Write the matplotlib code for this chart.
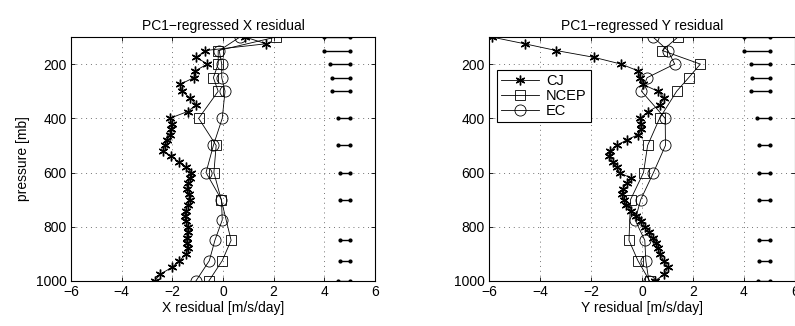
"""Vertical profiles of PC1-regressed X and Y residuals (CJ, NCEP, EC)."""

import matplotlib
matplotlib.use("Agg")
import matplotlib.pyplot as plt

plt.rcParams["font.family"] = ["Liberation Sans", "DejaVu Sans"]
plt.rcParams["font.size"] = 10

# CJ levels [mb]
cj_p = [100, 125, 150, 175, 200, 225, 250, 275, 300, 325, 350, 375, 400,
        420, 440, 460, 480, 500, 520, 540, 560, 580, 600, 620, 640, 660,
        680, 700, 720, 740, 760, 780, 800, 820, 840, 860, 880, 900,
        925, 950, 975, 1000]
cj_x = [0.87, 1.70, -0.70, -1.05, -0.62, -1.10, -1.15, -1.70, -1.62, -1.30,
        -1.05, -1.40, -2.10, -2.00, -2.05, -2.10, -2.20, -2.30, -2.38, -2.05,
        -1.75, -1.45, -1.25, -1.30, -1.40, -1.42, -1.35, -1.32, -1.40, -1.48,
        -1.50, -1.45, -1.40, -1.38, -1.44, -1.42, -1.38, -1.45, -1.72, -2.02,
        -2.48, -2.70]
cj_y = [-5.90, -4.60, -3.36, -1.88, -0.82, -0.15, -0.08, 0.04, 0.62, 0.88,
        0.70, 0.25, -0.08, -0.05, -0.02, -0.15, -0.60, -1.00, -1.25, -1.30,
        -1.15, -1.00, -0.88, -0.45, -0.60, -0.75, -0.77, -0.72, -0.63, -0.45,
        -0.22, -0.02, 0.12, 0.28, 0.42, 0.55, 0.62, 0.70, 0.85, 1.02,
        0.88, 0.50]

# NCEP levels [mb]
ncep_p = [100, 150, 200, 250, 300, 400, 500, 600, 700, 850, 925, 1000]
ncep_x = [2.10, -0.19, -0.19, -0.38, -0.19, -0.96, -0.27, -0.36, -0.07, 0.32, -0.03, -0.56]
ncep_y = [1.41, 0.80, 2.29, 1.83, 1.36, 0.69, 0.22, 0.06, -0.45, -0.51, -0.16, 0.30]

# EC levels [mb]
ec_p = [100, 150, 200, 250, 300, 400, 500, 600, 700, 775, 850, 925, 1000]
ec_x = [0.67, -0.15, -0.05, -0.05, 0.08, -0.03, -0.38, -0.67, -0.06, -0.03, -0.32, -0.54, -1.07]
ec_y = [0.43, 1.02, 1.28, 0.20, -0.02, 0.91, 0.92, 0.45, -0.05, -0.27, 0.11, 0.15, 0.27]

# error bars: drawn from start value to 5 at NCEP levels
bar_end = 5.0
bar_start_x = [4.0, 4.0, 4.23, 4.3, 4.3, 4.55, 4.55, 4.62, 4.62, 4.62, 4.62, 4.55]
bar_start_y = [4.0, 4.0, 4.26, 4.33, 4.26, 4.52, 4.59, 4.59, 4.59, 4.6, 4.6, 4.55]

xticks = [-6, -4, -2, 0, 2, 4, 6]
yticks = [200, 400, 600, 800, 1000]

STAR = (6, 2, 0)  # matlab-like asterisk


def draw_panel(ax, cj, ncep, ec, bar_start, title, xlabel):
    ax.plot(cj, cj_p, color="k", lw=0.6, marker=STAR, ms=7, mew=1.0, label="CJ")
    ax.plot(ncep, ncep_p, color="k", lw=0.6, marker="s", ms=6.5, mew=0.6,
            mfc="none", label="NCEP")
    ax.plot(ec, ec_p, color="k", lw=0.6, marker="o", ms=8, mew=0.6,
            mfc="none", label="EC")
    for p, s in zip(ncep_p, bar_start):
        ax.plot([s, bar_end], [p, p], color="k", lw=1.0, marker=".", ms=4)
    ax.set_xlim(-6, 6)
    ax.set_ylim(1000, 100)
    ax.set_xticks(xticks)
    ax.set_yticks(yticks)
    ax.grid(True, linestyle=(0, (1, 4)), color="0.45", linewidth=0.7)
    ax.tick_params(direction="in", top=True, right=True, length=3, width=0.6,
                   labelsize=10, pad=3)
    for sp in ax.spines.values():
        sp.set_linewidth(0.8)
    ax.set_title(title, fontsize=10, pad=5)
    ax.set_xlabel(xlabel, fontsize=10, labelpad=1)


fig = plt.figure(figsize=(7.95, 3.26), dpi=100)
ax1 = fig.add_axes([71 / 795, 45 / 326, 304 / 795, 244 / 326])
ax2 = fig.add_axes([489 / 795, 45 / 326, 306 / 795, 244 / 326])

draw_panel(ax1, cj_x, ncep_x, ec_x, bar_start_x,
           "PC1\u2212regressed X residual", "X residual [m/s/day]")
draw_panel(ax2, cj_y, ncep_y, ec_y, bar_start_y,
           "PC1\u2212regressed Y residual", "Y residual [m/s/day]")
ax1.set_ylabel("pressure [mb]", fontsize=10, labelpad=4)

leg = ax2.legend(loc="upper left", bbox_to_anchor=(0.025, 0.865), fancybox=False,
                 edgecolor="k", framealpha=1, fontsize=10.5, handlelength=2.6,
                 borderpad=0.3, labelspacing=0.05, handletextpad=0.5,
                 borderaxespad=0)
leg.get_frame().set_linewidth(0.8)

fig.savefig("out.png", dpi=100)
